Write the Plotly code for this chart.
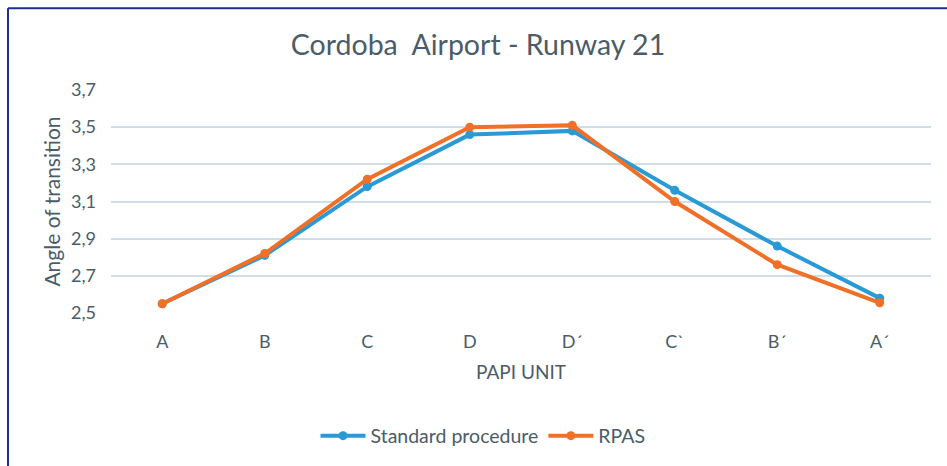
import plotly.graph_objects as go

categories = ["A", "B", "C", "D", "D´", "C`", "B´", "A´"]
standard = [2.55, 2.81, 3.18, 3.46, 3.48, 3.16, 2.86, 2.58]
rpas = [2.55, 2.82, 3.22, 3.50, 3.51, 3.10, 2.76, 2.555]
y_ticks = [2.5, 2.7, 2.9, 3.1, 3.3, 3.5, 3.7]

TXT = "#4a5c6a"
FONT = "Lato, Open Sans, sans-serif"

W, H = 947, 466
L, T = 111, 90
R = W - 931
B = H - 314
pw, ph = W - L - R, H - T - B

def px(x):
    return (x - L) / pw
def py(y):
    return 1 - (y - T) / ph

fig = go.Figure()
fig.add_trace(go.Scatter(x=categories, y=standard, name="Standard procedure", mode="lines+markers",
                         line=dict(color="#2a9ad6", width=4), marker=dict(size=9, color="#2a9ad6")))
fig.add_trace(go.Scatter(x=categories, y=rpas, name="RPAS", mode="lines+markers",
                         line=dict(color="#f07028", width=4), marker=dict(size=9, color="#f07028")))

fig.update_layout(
    width=W, height=H,
    margin=dict(l=L, r=R, t=T, b=B),
    paper_bgcolor="white", plot_bgcolor="white",
    separators=",.",
    font=dict(family=FONT, color=TXT, size=18),
    title=dict(text="Cordoba  Airport - Runway 21", x=px(478), xref="paper", xanchor="center",
               y=1 - 45 / H, yanchor="middle", font=dict(size=28.5, color=TXT)),
    xaxis=dict(showgrid=False, zeroline=False, showline=False, ticks="",
               range=[-0.5, len(categories) - 0.5],
               ticklabelstandoff=16,
               tickfont=dict(size=18, color=TXT),
               title=dict(text="PAPI UNIT", font=dict(size=19, color=TXT), standoff=14)),
    yaxis=dict(range=[2.5, 3.7], tickvals=y_ticks, tickformat=".1f",
               showgrid=True, gridcolor="#cfdde6", gridwidth=1.5, zeroline=False, showline=False,
               ticklabelstandoff=14,
               tickfont=dict(size=18, color=TXT),
               title=dict(text="Angle of transition", font=dict(size=21, color=TXT), standoff=4)),
    legend=dict(orientation="h", x=px(483), xanchor="center", y=py(436), yanchor="middle",
                font=dict(size=19.5, color=TXT), itemwidth=45),
    showlegend=True,
    shapes=[
        dict(type="line", xref="paper", yref="paper", x0=px(8), x1=px(8), y0=py(8), y1=py(480),
             line=dict(color="#1f2f8f", width=2)),
        dict(type="line", xref="paper", yref="paper", x0=px(8), x1=px(960), y0=py(8), y1=py(8),
             line=dict(color="#1f2f8f", width=2)),
    ],
)
fig.update_traces(cliponaxis=False)

fig.write_html("out.html", config={"displayModeBar": False},
               post_script="document.body.style.margin='0';document.body.style.overflow='hidden';")
